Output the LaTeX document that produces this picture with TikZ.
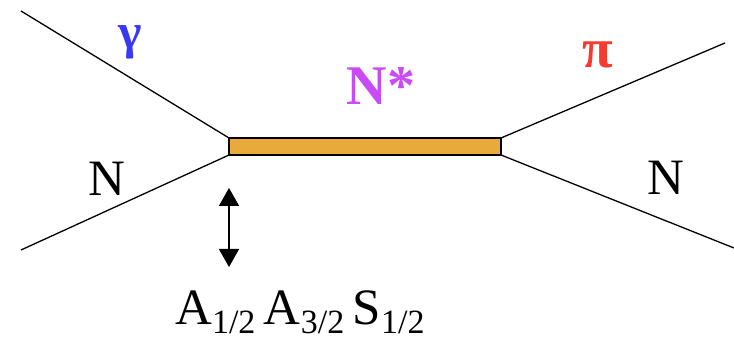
\documentclass[tikz,border=0pt]{standalone}
\usepackage{fontspec}
\setmainfont{Liberation Serif}
\usetikzlibrary{arrows.meta,positioning}
\definecolor{Bar}{HTML}{E8AA3A}
\definecolor{Photon}{HTML}{3838F5}
\definecolor{Pion}{HTML}{F53A2E}
\definecolor{Res}{HTML}{C84BF5}
\newcommand{\hsub}[1]{\raisebox{-9pt}{\fontsize{34}{34}\selectfont #1}}

\begin{document}
\begin{tikzpicture}[x=1pt,y=-1pt,
    leg/.style={line width=1.3pt},
    bar/.style={draw,line width=1.4pt,fill=Bar,minimum width=272pt,
      minimum height=17pt,inner sep=0pt,outer sep=0pt},
    big/.style={font=\fontsize{51}{51}\selectfont,inner sep=0pt}
  ]
    \useasboundingbox (0,0) rectangle (734,344);
    % resonance and external legs
    \node[bar] (res) at (365,146.5) {};
    \coordinate (gin) at (21,11);
    \coordinate (nin) at (21,250);
    \coordinate (piout) at (725,43);
    \coordinate (nout) at (734,248);
    \draw[leg] (gin) -- (res.north west);
    \draw[leg] (nin) -- (res.south west);
    \draw[leg] (res.north east) -- (piout);
    \draw[leg] (res.south east) -- (nout);
    % labels
    \node[big,text=Photon] (gam) at (130,42) {\fontsize{50}{50}\selectfont\bfseries γ};
    \node[big,text=Pion] (pi) at (598,55) {\fontsize{56}{56}\selectfont\bfseries π};
    \node[big,text=Res] (nstar) at (381,86) {\fontsize{56}{56}\selectfont\bfseries N*};
    \node[big] (nl) at (107,179) {N};
    \node[big] (nr) at (666,178) {N};
    % helicity amplitudes
    \coordinate (up) at (229,188);
    \coordinate (dn) at (229,267);
    \draw[line width=1.4pt,{Triangle[width=20pt,length=18pt]}-{Triangle[width=20pt,length=18pt]}] (up) -- (dn);
    \node[big,anchor=base west] (amp) at (175,325)
      {A\hsub{1/2}\,A\hsub{3/2}\,S\hsub{1/2}};
  \end{tikzpicture}
\end{document}
